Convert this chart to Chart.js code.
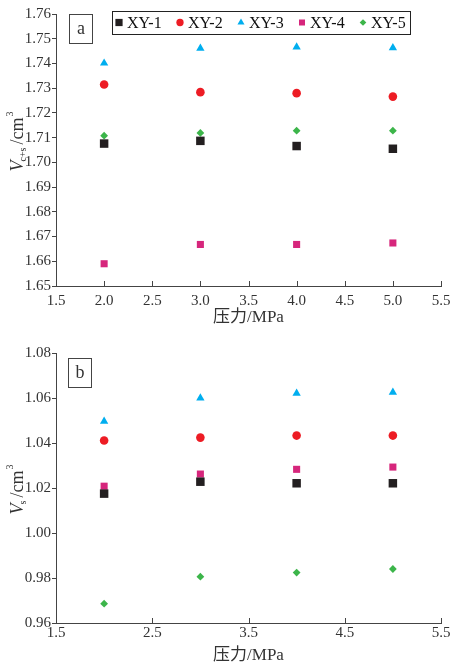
<!DOCTYPE html>
<html>
<head>
<meta charset="utf-8">
<script src="https://cdn.jsdelivr.net/npm/chart.js@4/dist/chart.umd.min.js"></script>
<style>
  html, body { margin: 0; padding: 0; background: #fff; overflow: hidden; }
  .box { position: relative; width: 451px; }
</style>
</head>
<body>
<div class="box" style="height:330px"><canvas id="chartA"></canvas></div>
<div class="box" style="height:340px"><canvas id="chartB"></canvas></div>
<script>
// pressure (MPa)
const pressures = [2.0, 3.0, 4.0, 5.0];
const seriesNames = ["XY-1", "XY-2", "XY-3", "XY-4", "XY-5"];

// panel a: V c+s (cm3)
const vcsXY1 = [1.7076, 1.7087, 1.7066, 1.7055];
const vcsXY2 = [1.7315, 1.7284, 1.7280, 1.7266];
const vcsXY3 = [1.7401, 1.7461, 1.7466, 1.7463];
const vcsXY4 = [1.6590, 1.6668, 1.6668, 1.6674];
const vcsXY5 = [1.7108, 1.7119, 1.7128, 1.7128];

// panel b: V s (cm3)
const vsXY1 = [1.0175, 1.0228, 1.0221, 1.0221];
const vsXY2 = [1.0411, 1.0424, 1.0433, 1.0433];
const vsXY3 = [1.0496, 1.0600, 1.0621, 1.0625];
const vsXY4 = [1.0208, 1.0262, 1.0283, 1.0293];
const vsXY5 = [0.9686, 0.9806, 0.9824, 0.9840];

// tick labels
const xTicksA = [1.5, 2.0, 2.5, 3.0, 3.5, 4.0, 4.5, 5.0, 5.5];
const xTicksB = [1.5, 2.5, 3.5, 4.5, 5.5];
const yTicksA = [1.65, 1.66, 1.67, 1.68, 1.69, 1.70, 1.71, 1.72, 1.73, 1.74, 1.75, 1.76];
const yTicksB = [0.96, 0.98, 1.00, 1.02, 1.04, 1.06, 1.08];

const serif = '"Liberation Serif", "DejaVu Serif", "Noto Sans CJK SC", serif';
const textColor = '#333';
const axisColor = '#444';

const markers = [
  { color: '#231f20', style: 'rect', r: 6 },
  { color: '#ed1c24', style: 'circle', r: 4.3 },
  { color: '#00aeef', style: 'triangle', r: 4.8 },
  { color: '#d6267c', style: 'rect', r: 5 },
  { color: '#3cb54a', style: 'rectRot', r: 3.9 }
];

function makeDatasets(lists) {
  return lists.map((vals, i) => ({
    label: seriesNames[i],
    data: vals.map((v, j) => ({ x: pressures[j], y: v })),
    pointStyle: markers[i].style,
    pointRadius: markers[i].r,
    pointHoverRadius: markers[i].r,
    backgroundColor: markers[i].color,
    borderColor: markers[i].color,
    borderWidth: 0,
    showLine: false
  }));
}

// panel label, y title with sub/superscript, inward x ticks, boxed legend
const decorPlugin = {
  id: 'decor',
  afterDraw(chart, args, opts) {
    const ctx = chart.ctx;
    const area = chart.chartArea;
    const xs = chart.scales.x;
    ctx.save();

    // inward ticks on the x axis
    ctx.strokeStyle = axisColor;
    ctx.lineWidth = 1;
    opts.xTicks.forEach(v => {
      const px = Math.round(xs.getPixelForValue(v)) + 0.5;
      ctx.beginPath();
      ctx.moveTo(px, area.bottom);
      ctx.lineTo(px, area.bottom - 5);
      ctx.stroke();
    });

    // panel label box
    const b = opts.labelBox;
    ctx.strokeRect(b[0] + 0.5, b[1] + 0.5, b[2], b[3]);
    ctx.fillStyle = textColor;
    ctx.font = '18px ' + serif;
    ctx.textAlign = 'center';
    ctx.textBaseline = 'middle';
    ctx.fillText(opts.label, b[0] + b[2] / 2 + 0.5, b[1] + b[3] / 2 + 1);

    // y axis title: V_sub / cm^3
    const cy = (area.top + area.bottom) / 2 + opts.titleShift;
    ctx.translate(17, cy);
    ctx.rotate(-Math.PI / 2);
    const fV = 'italic 18px ' + serif;
    const fSub = '10px ' + serif;
    const fMain = '18px ' + serif;
    const fSup = '10px ' + serif;
    ctx.font = fV; const wV = ctx.measureText('V').width;
    ctx.font = fSub; const wSub = ctx.measureText(opts.sub).width;
    ctx.font = fMain; const wMain = ctx.measureText('/cm').width;
    ctx.font = fSup; const wSup = ctx.measureText('3').width;
    let x0 = -(wV + wSub + wMain + wSup + 2) / 2;
    ctx.textAlign = 'left';
    ctx.textBaseline = 'alphabetic';
    ctx.font = fV; ctx.fillText('V', x0, 6); x0 += wV;
    ctx.font = fSub; ctx.fillText(opts.sub, x0 - 1, 9); x0 += wSub + 2;
    ctx.font = fMain; ctx.fillText('/cm', x0, 6); x0 += wMain;
    ctx.font = fSup; ctx.fillText('3', x0 + 1, -4);
    ctx.restore();

    if (!opts.legend) return;
    ctx.save();
    ctx.strokeStyle = '#222';
    ctx.lineWidth = 1;
    ctx.strokeRect(112.5, 11.5, 298, 23);
    ctx.font = '16px ' + serif;
    ctx.textAlign = 'left';
    ctx.textBaseline = 'middle';
    chart.data.datasets.forEach((ds, i) => {
      const mx = 119 + i * 61;
      const my = 22.5;
      ctx.fillStyle = ds.backgroundColor;
      ctx.strokeStyle = ds.borderColor;
      Chart.helpers.drawPoint(ctx, { pointStyle: ds.pointStyle, radius: ds.pointRadius * 0.85, rotation: 0, borderWidth: 0 }, mx, my);
      ctx.fillStyle = '#111';
      ctx.fillText(ds.label, mx + 8, my + 1);
    });
    ctx.restore();
  }
};

function makeChart(id, lists, cfg) {
  return new Chart(document.getElementById(id), {
    type: 'scatter',
    data: { datasets: makeDatasets(lists) },
    options: {
      responsive: true,
      maintainAspectRatio: false,
      animation: false,
      layout: { padding: { top: cfg.top, right: 10, left: 0, bottom: 0 } },
      plugins: {
        legend: { display: false },
        tooltip: { enabled: false },
        decor: cfg.decor
      },
      scales: {
        x: {
          type: 'linear',
          min: 1.5,
          max: 5.5,
          afterBuildTicks: s => { s.ticks = cfg.xTicks.map(v => ({ value: v })); },
          afterFit: s => { s.height = cfg.xHeight; s.paddingLeft = 0; s.paddingRight = 0; },
          grid: { display: false, drawTicks: false },
          border: { display: true, color: axisColor, width: 1 },
          ticks: {
            padding: cfg.xPad,
            color: textColor,
            font: { family: serif, size: 15 },
            maxRotation: 0,
            autoSkip: false,
            callback: v => Number(v).toFixed(1)
          },
          title: {
            display: true,
            text: '压力/MPa',
            color: textColor,
            font: { family: serif, size: 17 },
            padding: { top: 0, bottom: cfg.titlePad }
          }
        },
        y: {
          type: 'linear',
          min: cfg.yTicks[0],
          max: cfg.yTicks[cfg.yTicks.length - 1],
          afterBuildTicks: s => { s.ticks = cfg.yTicks.map(v => ({ value: v })); },
          afterFit: s => { s.width = 56; s.paddingTop = 0; s.paddingBottom = 0; },
          grid: { display: true, drawOnChartArea: false, drawTicks: true, tickLength: 4, color: axisColor },
          border: { display: true, color: axisColor, width: 1 },
          ticks: {
            padding: 1,
            color: textColor,
            font: { family: serif, size: 15 },
            autoSkip: false,
            callback: v => Number(v).toFixed(2)
          }
        }
      }
    },
    plugins: [decorPlugin]
  });
}

makeChart('chartA', [vcsXY1, vcsXY2, vcsXY3, vcsXY4, vcsXY5], {
  top: 14, xHeight: 44, xPad: 6, titlePad: 2,
  xTicks: xTicksA, yTicks: yTicksA,
  decor: { label: 'a', labelBox: [69, 14, 23, 29], sub: 'c+s', titleShift: -8, legend: true, xTicks: xTicksA }
});

makeChart('chartB', [vsXY1, vsXY2, vsXY3, vsXY4, vsXY5], {
  top: 23, xHeight: 47, xPad: 1, titlePad: 4,
  xTicks: xTicksB, yTicks: yTicksB,
  decor: { label: 'b', labelBox: [68, 28, 23, 29], sub: 's', titleShift: 2, legend: false, xTicks: xTicksB }
});
</script>
</body>
</html>
